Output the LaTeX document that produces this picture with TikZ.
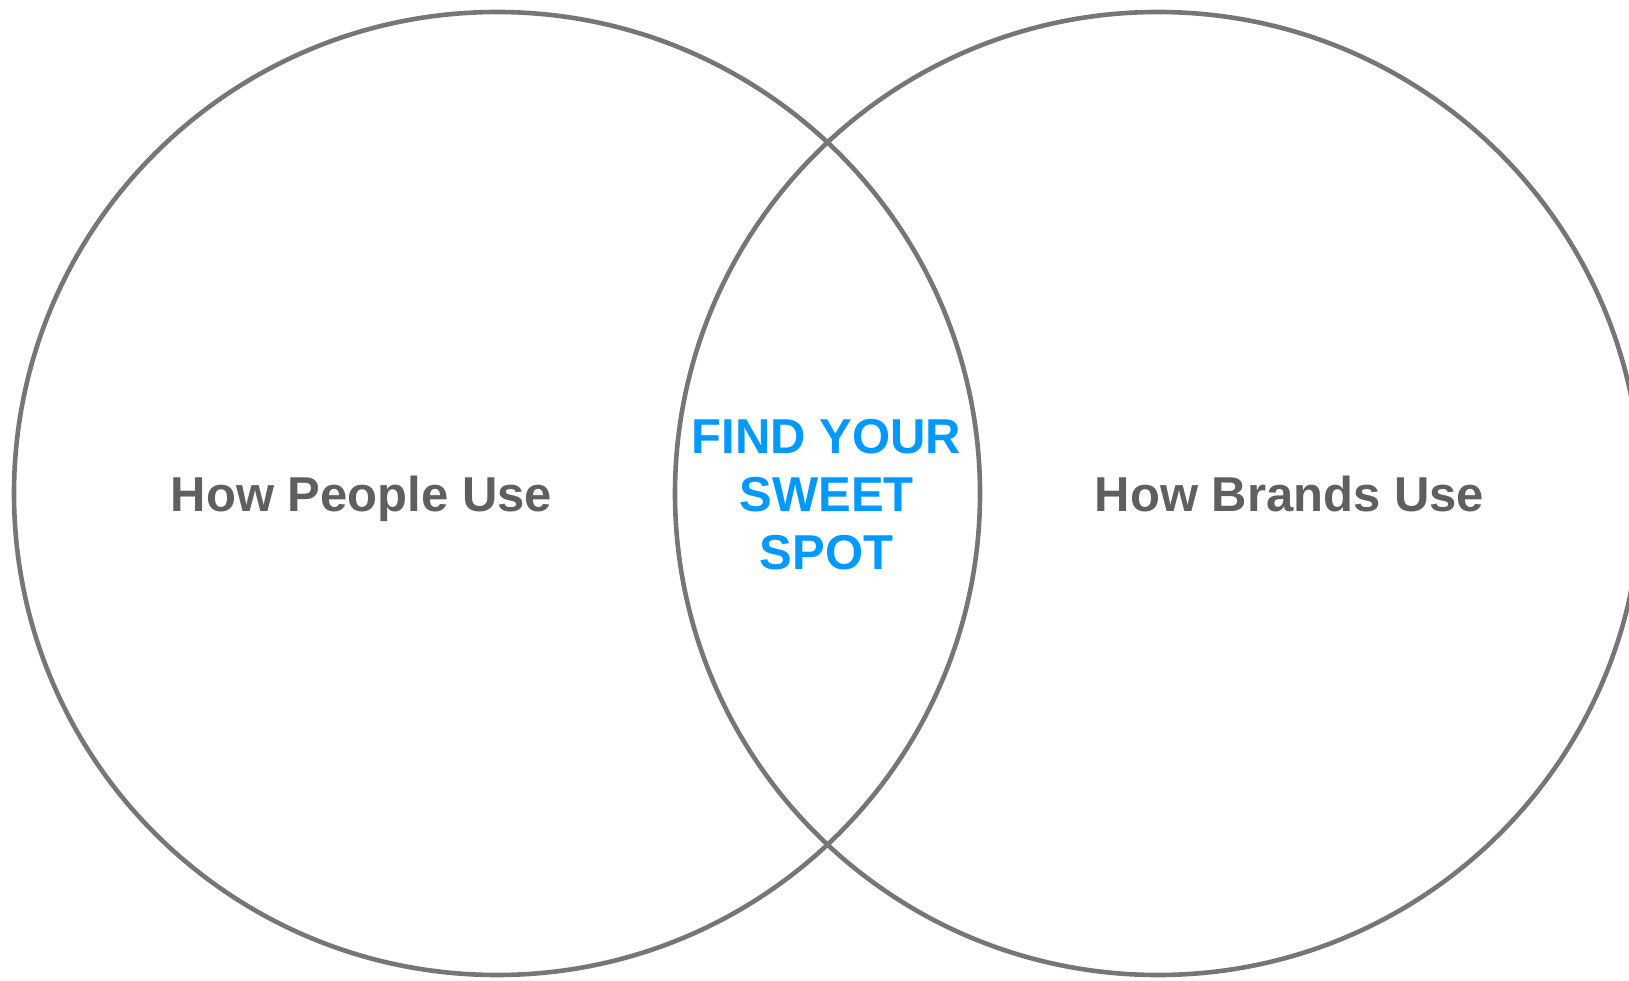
\documentclass[tikz,border=0pt]{standalone}
\usepackage{fontspec}
\setmainfont{Liberation Sans}
\usetikzlibrary{shapes.geometric}
\definecolor{ringgray}{HTML}{767676}
\definecolor{labelgray}{HTML}{5F5F5F}
\definecolor{spotblue}{HTML}{0099FF}
\begin{document}
\begin{tikzpicture}[x=1pt,y=1pt,
  ring/.style={ellipse, draw=ringgray, line width=4.6pt, minimum width=966pt, minimum height=963pt, inner sep=0pt},
  sidelabel/.style={font=\fontsize{49}{58}\selectfont\bfseries, text=labelgray, anchor=base, inner sep=0pt},
  spotlabel/.style={font=\fontsize{49}{58}\selectfont\bfseries, text=spotblue, align=center, inner sep=0pt}]
  \useasboundingbox (0,0) rectangle (1629,980);
  \clip (0,0) rectangle (1629,980);
  % two overlapping sets
  \node[ring] (people) at (497,486.5) {};
  \node[ring] (brands) at (1158,486.5) {};
  % set labels
  \node[sidelabel] (peoplelabel) at (361.5,468) {How People Use};
  \node[sidelabel] (brandslabel) at (1289.5,468) {How Brands Use};
  % overlap label
  \node[spotlabel] (spot) at (826.5,485.5) {FIND YOUR\\SWEET\\SPOT};
\end{tikzpicture}
\end{document}
